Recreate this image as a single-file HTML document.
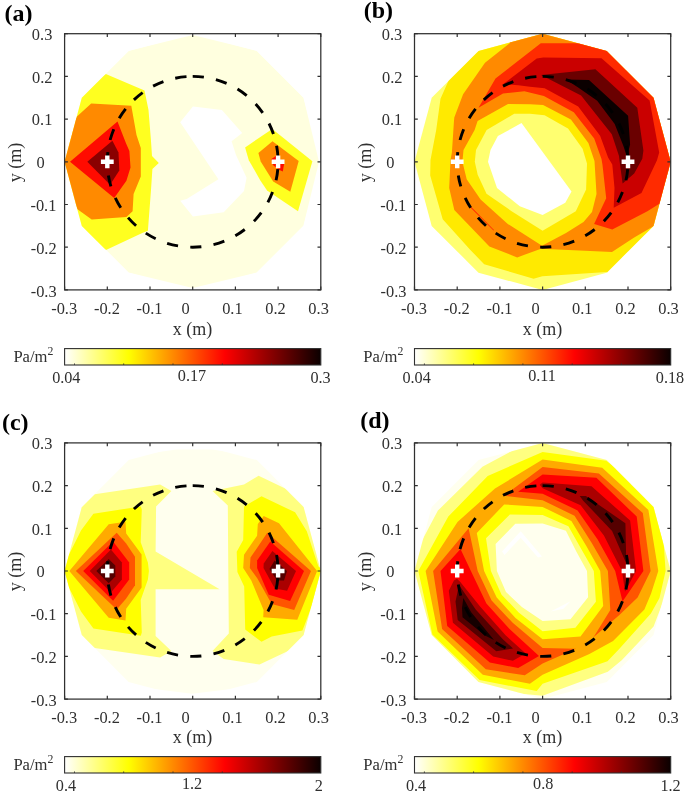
<!DOCTYPE html>
<html lang="en"><head><meta charset="utf-8"><title>Figure</title>
<style>html,body{margin:0;padding:0;background:#fff}body{width:685px;height:794px;overflow:hidden}svg{display:block}text{white-space:pre}</style></head><body>
<svg width="685" height="794" viewBox="0 0 685 794">
<defs><linearGradient id="hot" x1="0" x2="1" y1="0" y2="0"><stop offset="0" stop-color="#ffffff"/><stop offset="0.25" stop-color="#ffff00"/><stop offset="0.625" stop-color="#ff0000"/><stop offset="1" stop-color="#0b0000"/></linearGradient></defs>
<rect width="685" height="794" fill="#fff"/>
<g>
<clipPath id="clip0"><polygon points="320.8,161.8 303.6,97.8 256.8,50.9 192.7,33.7 128.7,50.9 81.8,97.8 64.6,161.8 81.8,225.9 128.6,272.7 192.7,289.9 256.8,272.7 303.6,225.9"/></clipPath>
<g clip-path="url(#clip0)" shape-rendering="geometricPrecision">
<polygon points="192.8,35.1 256.6,50.6 303.4,97.6 319.0,161.7 303.4,225.7 256.6,272.6 192.7,288.0 128.6,272.6 81.8,225.7 64.0,161.7 81.8,97.7 128.6,50.8" fill="#ffffdf" />
<polygon points="192.9,106.5 221.9,110.0 242.2,132.9 231.6,141.2 236.0,154.9 246.6,177.8 244.0,191.0 223.7,212.2 192.9,216.6 180.2,200.7 186.7,199.0 218.4,179.2 180.2,122.3" fill="#ffffff" />
<polygon points="105.8,74.0 144.5,90.5 148.5,110.0 151.0,141.0 152.0,156.0 158.8,163.0 152.4,169.0 151.0,190.0 147.9,230.7 142.8,232.8 106.0,250.1 75.0,230.0 55.0,161.7 75.0,95.0" fill="#ffff20" />
<polygon points="91.2,103.6 131.3,105.8 136.5,135.0 140.8,148.1 140.8,176.6 133.6,193.9 132.6,211.3 126.4,217.0 91.7,219.5 77.5,209.3 55.0,161.7 76.7,116.7" fill="#ff8a00" />
<polygon points="117.5,121.6 126.2,143.8 129.4,151.0 130.5,167.4 126.4,180.7 114.2,198.0 70.0,161.7" fill="#ff0b00" />
<polygon points="112.4,140.8 118.5,152.5 119.3,170.4 110.1,184.7 87.3,161.7" fill="#8a0000" />
<polygon points="272.3,128.9 312.4,161.3 298.0,211.3 267.1,190.5 260.5,180.7 248.8,160.3 245.1,147.4" fill="#ffff20" />
<polygon points="272.5,141.2 298.7,161.0 290.3,191.8 273.2,181.5 260.7,161.6 258.4,153.0" fill="#ff8a00" />
<polygon points="271.5,159.0 275.9,155.9 284.1,164.1 282.8,171.6 279.0,169.7 273.0,165.0" fill="#ff0b00" />
</g>
<circle cx="192.7" cy="161.8" r="85.4" fill="none" stroke="#000" stroke-width="2.9" stroke-dasharray="11.3 12.25" stroke-dashoffset="0" transform="rotate(-90 192.7 161.8)"/>
<path d="M100.9 161.8H113.7M107.3 155.4V168.2" stroke="#fff" stroke-width="4.4" fill="none"/>
<path d="M271.7 161.8H284.5M278.1 155.4V168.2" stroke="#fff" stroke-width="4.4" fill="none"/>
<rect x="64.6" y="33.7" width="256.2" height="256.2" fill="none" stroke="#303030" stroke-width="1.25"/>
<path d="M64.6 289.9v-3.3M64.6 33.7v3.3M64.6 33.7h3.3M320.8 33.7h-3.3M107.3 289.9v-3.3M107.3 33.7v3.3M64.6 76.4h3.3M320.8 76.4h-3.3M150.0 289.9v-3.3M150.0 33.7v3.3M64.6 119.1h3.3M320.8 119.1h-3.3M192.7 289.9v-3.3M192.7 33.7v3.3M64.6 161.8h3.3M320.8 161.8h-3.3M235.4 289.9v-3.3M235.4 33.7v3.3M64.6 204.5h3.3M320.8 204.5h-3.3M278.1 289.9v-3.3M278.1 33.7v3.3M64.6 247.2h3.3M320.8 247.2h-3.3M320.8 289.9v-3.3M320.8 33.7v3.3M64.6 289.9h3.3M320.8 289.9h-3.3" stroke="#303030" stroke-width="1.2" fill="none"/>
<text x="64.2" y="313.9" text-anchor="middle" font-size="16.4" font-family="'Liberation Serif','Times New Roman',serif" fill="#303030">-0.3</text>
<text x="106.9" y="313.9" text-anchor="middle" font-size="16.4" font-family="'Liberation Serif','Times New Roman',serif" fill="#303030">-0.2</text>
<text x="149.6" y="313.9" text-anchor="middle" font-size="16.4" font-family="'Liberation Serif','Times New Roman',serif" fill="#303030">-0.1</text>
<text x="185.7" y="313.9" text-anchor="middle" font-size="16.4" font-family="'Liberation Serif','Times New Roman',serif" fill="#303030">0</text>
<text x="232.4" y="313.9" text-anchor="middle" font-size="16.4" font-family="'Liberation Serif','Times New Roman',serif" fill="#303030">0.1</text>
<text x="275.5" y="313.9" text-anchor="middle" font-size="16.4" font-family="'Liberation Serif','Times New Roman',serif" fill="#303030">0.2</text>
<text x="318.6" y="313.9" text-anchor="middle" font-size="16.4" font-family="'Liberation Serif','Times New Roman',serif" fill="#303030">0.3</text>
<text x="42.1" y="39.6" text-anchor="middle" font-size="16.4" font-family="'Liberation Serif','Times New Roman',serif" fill="#303030">0.3</text>
<text x="42.3" y="82.5" text-anchor="middle" font-size="16.4" font-family="'Liberation Serif','Times New Roman',serif" fill="#303030">0.2</text>
<text x="42.1" y="125.3" text-anchor="middle" font-size="16.4" font-family="'Liberation Serif','Times New Roman',serif" fill="#303030">0.1</text>
<text x="40.5" y="168.2" text-anchor="middle" font-size="16.4" font-family="'Liberation Serif','Times New Roman',serif" fill="#303030">0</text>
<text x="43.4" y="211.1" text-anchor="middle" font-size="16.4" font-family="'Liberation Serif','Times New Roman',serif" fill="#303030">-0.1</text>
<text x="43.7" y="253.9" text-anchor="middle" font-size="16.4" font-family="'Liberation Serif','Times New Roman',serif" fill="#303030">-0.2</text>
<text x="43.7" y="296.8" text-anchor="middle" font-size="16.4" font-family="'Liberation Serif','Times New Roman',serif" fill="#303030">-0.3</text>
<text x="192.5" y="335.3" text-anchor="middle" font-size="18" font-family="'Liberation Serif','Times New Roman',serif" fill="#303030">x (m)</text>
<text transform="translate(21.0 162.4) rotate(-90)" text-anchor="middle" font-size="18" font-family="'Liberation Serif','Times New Roman',serif" fill="#303030">y (m)</text>
<text x="4.6" y="20.6" font-size="24" font-weight="bold" font-family="'Liberation Serif','Times New Roman',serif" fill="#000">(a)</text>
<rect x="64.6" y="348.6" width="256.2" height="16.4" fill="url(#hot)" stroke="#303030" stroke-width="1.1"/>
<path d="M74.5 365.0v-1.6M123.7 365.0v-1.6M173.0 365.0v-1.6M222.3 365.0v-1.6M271.5 365.0v-1.6" stroke="#303030" stroke-width="0.8" fill="none"/>
<text x="66.3" y="383.4" text-anchor="middle" font-size="16.2" font-family="'Liberation Serif','Times New Roman',serif" fill="#303030">0.04</text>
<text x="192.0" y="381.1" text-anchor="middle" font-size="16.2" font-family="'Liberation Serif','Times New Roman',serif" fill="#303030">0.17</text>
<text x="320.6" y="383.2" text-anchor="middle" font-size="16.2" font-family="'Liberation Serif','Times New Roman',serif" fill="#303030">0.3</text>
<text x="13.4" y="362.0" font-size="16.6" font-family="'Liberation Serif','Times New Roman',serif" fill="#303030">Pa/m<tspan dy="-7.4" font-size="11.8">2</tspan></text>
</g>
<g>
<clipPath id="clip1"><polygon points="670.7,161.8 653.5,97.8 606.7,50.9 542.6,33.7 478.6,50.9 431.7,97.8 414.5,161.8 431.7,225.9 478.5,272.7 542.6,289.9 606.7,272.7 653.5,225.9"/></clipPath>
<g clip-path="url(#clip1)" shape-rendering="geometricPrecision">
<polygon points="675.0,161.8 657.2,95.6 608.8,47.2 542.6,29.4 476.4,47.2 428.0,95.6 410.2,161.8 428.0,228.0 476.4,276.4 542.6,294.2 608.8,276.4 657.2,228.0" fill="#ffff70" />
<polygon points="448.4,81.1 430.0,60.0 430.0,0.0 700.0,0.0 700.0,320.0 620.0,320.0 606.8,271.9 542.3,276.3 533.6,278.7 484.2,264.2 470.4,250.0 442.7,219.3 430.2,175.5 430.5,160.0 436.2,129.9 440.5,98.7" fill="#ffea00" />
<polygon points="510.0,43.0 485.0,62.8 463.1,94.2 454.3,117.6 453.9,122.0 451.9,152.6 450.5,160.0 449.2,188.0 454.3,209.9 489.4,246.4 517.2,257.4 541.0,248.7 612.0,252.0 634.2,237.6 653.9,225.9 700.0,230.0 700.0,0.0 505.0,0.0" fill="#ff8a00" />
<polygon points="508.0,104.0 530.0,104.3 543.1,105.0 570.9,119.6 588.4,143.0 594.5,161.0 596.5,194.0 592.0,212.0 583.5,222.0 566.0,233.0 542.0,245.7 507.5,223.8 480.6,199.6 466.7,179.2 462.4,161.7 463.5,150.0 474.6,130.0 477.6,121.0" fill="#ffea00" />
<polygon points="514.2,113.8 530.0,113.8 544.6,115.3 568.0,128.4 582.6,148.8 587.0,163.4 586.1,189.4 575.8,211.3 542.6,230.8 512.0,211.5 486.5,193.8 477.7,174.8 474.8,161.7 476.0,150.0 486.6,130.1" fill="#ffff70" />
<polygon points="521.5,123.0 571.5,191.4 565.3,202.8 542.6,215.0 519.8,206.3 497.0,188.0 488.0,161.7 490.5,150.0 497.9,136.1" fill="#ffffff" />
<polygon points="478.5,107.7 495.5,78.6 540.8,43.3 579.0,43.3 590.0,20.0 700.0,20.0 700.0,200.0 659.0,204.0 647.4,211.3 612.3,229.6 594.1,224.0 606.2,198.2 602.5,165.0 601.5,159.1 594.2,138.6 573.8,112.3 543.9,96.0 524.4,91.3 503.0,93.4" fill="#ff2b00" />
<polygon points="503.0,84.2 536.7,58.6 543.3,57.6 601.5,58.2 649.6,100.5 659.2,152.6 657.0,160.2 641.5,193.1 613.7,207.7 614.5,188.0 612.3,164.6 608.1,157.6 600.1,135.7 578.2,106.5 544.6,88.2 530.0,86.8 518.3,85.2" fill="#ca0000" />
<polygon points="541.0,75.0 595.4,69.2 637.3,107.7 643.4,150.6 642.3,158.8 634.2,173.4 622.6,183.6 620.4,167.5 619.0,156.1 611.8,134.2 581.1,95.5" fill="#6a0000" />
<polygon points="565.8,79.5 589.0,80.1 628.1,115.8 630.1,144.5 627.0,157.0 623.4,145.9 614.7,124.0 597.2,100.7 578.2,87.5" fill="#0b0000" />
<polygon points="470.2,207.2 470.8,206.6 494.0,230.0 493.5,230.6" fill="#ff2b00" />
</g>
<circle cx="542.6" cy="161.8" r="85.4" fill="none" stroke="#000" stroke-width="2.9" stroke-dasharray="11.3 12.25" stroke-dashoffset="0" transform="rotate(-90 542.6 161.8)"/>
<path d="M450.8 161.8H463.6M457.2 155.4V168.2" stroke="#fff" stroke-width="4.4" fill="none"/>
<path d="M621.6 161.8H634.4M628.0 155.4V168.2" stroke="#fff" stroke-width="4.4" fill="none"/>
<rect x="414.5" y="33.7" width="256.2" height="256.2" fill="none" stroke="#303030" stroke-width="1.25"/>
<path d="M414.5 289.9v-3.3M414.5 33.7v3.3M414.5 33.7h3.3M670.7 33.7h-3.3M457.2 289.9v-3.3M457.2 33.7v3.3M414.5 76.4h3.3M670.7 76.4h-3.3M499.9 289.9v-3.3M499.9 33.7v3.3M414.5 119.1h3.3M670.7 119.1h-3.3M542.6 289.9v-3.3M542.6 33.7v3.3M414.5 161.8h3.3M670.7 161.8h-3.3M585.3 289.9v-3.3M585.3 33.7v3.3M414.5 204.5h3.3M670.7 204.5h-3.3M628.0 289.9v-3.3M628.0 33.7v3.3M414.5 247.2h3.3M670.7 247.2h-3.3M670.7 289.9v-3.3M670.7 33.7v3.3M414.5 289.9h3.3M670.7 289.9h-3.3" stroke="#303030" stroke-width="1.2" fill="none"/>
<text x="414.1" y="313.9" text-anchor="middle" font-size="16.4" font-family="'Liberation Serif','Times New Roman',serif" fill="#303030">-0.3</text>
<text x="456.8" y="313.9" text-anchor="middle" font-size="16.4" font-family="'Liberation Serif','Times New Roman',serif" fill="#303030">-0.2</text>
<text x="499.5" y="313.9" text-anchor="middle" font-size="16.4" font-family="'Liberation Serif','Times New Roman',serif" fill="#303030">-0.1</text>
<text x="535.6" y="313.9" text-anchor="middle" font-size="16.4" font-family="'Liberation Serif','Times New Roman',serif" fill="#303030">0</text>
<text x="582.3" y="313.9" text-anchor="middle" font-size="16.4" font-family="'Liberation Serif','Times New Roman',serif" fill="#303030">0.1</text>
<text x="625.4" y="313.9" text-anchor="middle" font-size="16.4" font-family="'Liberation Serif','Times New Roman',serif" fill="#303030">0.2</text>
<text x="668.5" y="313.9" text-anchor="middle" font-size="16.4" font-family="'Liberation Serif','Times New Roman',serif" fill="#303030">0.3</text>
<text x="392.0" y="39.6" text-anchor="middle" font-size="16.4" font-family="'Liberation Serif','Times New Roman',serif" fill="#303030">0.3</text>
<text x="392.2" y="82.5" text-anchor="middle" font-size="16.4" font-family="'Liberation Serif','Times New Roman',serif" fill="#303030">0.2</text>
<text x="392.0" y="125.3" text-anchor="middle" font-size="16.4" font-family="'Liberation Serif','Times New Roman',serif" fill="#303030">0.1</text>
<text x="390.4" y="168.2" text-anchor="middle" font-size="16.4" font-family="'Liberation Serif','Times New Roman',serif" fill="#303030">0</text>
<text x="393.3" y="211.1" text-anchor="middle" font-size="16.4" font-family="'Liberation Serif','Times New Roman',serif" fill="#303030">-0.1</text>
<text x="393.6" y="253.9" text-anchor="middle" font-size="16.4" font-family="'Liberation Serif','Times New Roman',serif" fill="#303030">-0.2</text>
<text x="393.6" y="296.8" text-anchor="middle" font-size="16.4" font-family="'Liberation Serif','Times New Roman',serif" fill="#303030">-0.3</text>
<text x="542.4" y="335.3" text-anchor="middle" font-size="18" font-family="'Liberation Serif','Times New Roman',serif" fill="#303030">x (m)</text>
<text transform="translate(370.9 162.4) rotate(-90)" text-anchor="middle" font-size="18" font-family="'Liberation Serif','Times New Roman',serif" fill="#303030">y (m)</text>
<text x="363.7" y="18.1" font-size="24" font-weight="bold" font-family="'Liberation Serif','Times New Roman',serif" fill="#000">(b)</text>
<rect x="414.5" y="348.6" width="256.2" height="16.4" fill="url(#hot)" stroke="#303030" stroke-width="1.1"/>
<path d="M424.4 365.0v-1.6M473.6 365.0v-1.6M522.9 365.0v-1.6M572.2 365.0v-1.6M621.4 365.0v-1.6" stroke="#303030" stroke-width="0.8" fill="none"/>
<text x="416.6" y="383.4" text-anchor="middle" font-size="16.2" font-family="'Liberation Serif','Times New Roman',serif" fill="#303030">0.04</text>
<text x="542.0" y="381.1" text-anchor="middle" font-size="16.2" font-family="'Liberation Serif','Times New Roman',serif" fill="#303030">0.11</text>
<text x="670.0" y="383.2" text-anchor="middle" font-size="16.2" font-family="'Liberation Serif','Times New Roman',serif" fill="#303030">0.18</text>
<text x="363.3" y="362.0" font-size="16.6" font-family="'Liberation Serif','Times New Roman',serif" fill="#303030">Pa/m<tspan dy="-7.4" font-size="11.8">2</tspan></text>
</g>
<g>
<clipPath id="clip2"><polygon points="320.8,571.0 303.6,507.0 256.8,460.1 192.7,442.9 128.7,460.1 81.8,507.0 64.6,571.0 81.8,635.0 128.6,681.9 192.7,699.1 256.8,681.9 303.6,635.1"/></clipPath>
<g clip-path="url(#clip2)" shape-rendering="geometricPrecision">
<polygon points="325.1,571.0 307.3,504.8 258.9,456.4 212.0,449.5 176.5,449.5 126.5,456.4 78.1,504.8 60.3,571.0 78.1,637.2 126.5,685.6 192.0,693.8 258.9,685.6 307.3,637.2" fill="#ffffee" />
<polygon points="81.8,507.1 94.7,494.2 160.1,484.6 171.4,491.1 156.1,506.4 155.6,551.4 219.6,589.3 155.6,589.3 155.6,636.0 171.4,651.0 160.1,657.5 94.7,647.9 75.0,640.0 50.0,571.0 75.0,500.0" fill="#ffff80" />
<polygon points="212.5,491.1 244.0,484.6 258.6,475.8 286.3,489.0 310.0,500.0 335.0,571.0 310.0,640.0 286.0,652.0 259.5,664.6 223.7,659.1 212.5,651.0 228.8,633.6 228.3,571.0 227.8,505.4" fill="#ffff80" />
<polygon points="93.4,513.7 140.8,506.4 141.8,509.5 140.7,542.2 147.9,562.6 148.9,571.0 147.9,579.5 140.7,599.9 141.8,632.6 140.8,635.7 93.4,628.4 81.0,611.6 70.8,591.2 60.0,571.0 70.8,550.9 81.0,530.5" fill="#ffff00" />
<polygon points="108.7,524.3 125.5,521.7 126.2,533.4 141.6,554.6 141.6,587.5 126.2,608.7 125.5,620.4 108.7,617.8 69.3,571.0" fill="#ffaa00" />
<polygon points="116.7,532.7 126.2,543.6 135.0,556.8 135.0,585.3 126.2,598.5 116.7,609.4 75.9,571.0" fill="#ff5500" />
<polygon points="113.1,541.4 129.2,562.6 129.2,579.5 113.1,600.7 83.2,571.0" fill="#ff0000" />
<polygon points="110.9,549.5 121.9,562.6 121.9,579.5 110.9,592.6 89.7,571.0" fill="#aa0000" />
<polygon points="108.7,558.9 115.3,565.5 115.3,576.6 108.7,583.2 96.3,571.0" fill="#550000" />
<polygon points="261.5,496.3 295.1,512.3 306.8,531.3 318.4,566.4 325.0,571.0 304.4,625.4 302.4,630.5 271.7,636.6 261.5,641.8 245.2,629.5 244.2,586.6 237.4,572.0 236.7,551.8 243.2,540.1 244.0,506.5" fill="#ffff00" />
<polygon points="263.7,516.0 279.0,523.3 317.1,571.0 297.3,619.7 263.2,617.2 263.6,610.1 251.3,580.4 243.2,568.0 244.0,554.7 257.1,535.7 257.8,524.0" fill="#ffaa00" />
<polygon points="267.3,532.8 311.0,571.0 294.2,610.1 271.7,603.9 257.4,578.4 249.8,568.0 250.5,557.6" fill="#ff5500" />
<polygon points="270.3,541.5 304.0,571.0 290.1,600.9 268.7,594.7 257.1,568.0 257.1,560.5" fill="#ff0000" />
<polygon points="272.4,551.0 296.0,571.0 287.1,590.7 274.8,588.6 263.5,568.0 263.7,563.4" fill="#aa0000" />
<polygon points="274.6,560.5 287.0,571.0 284.0,580.4 276.9,580.4 269.5,569.0" fill="#550000" />
</g>
<circle cx="192.7" cy="571.0" r="85.4" fill="none" stroke="#000" stroke-width="2.9" stroke-dasharray="11.3 12.25" stroke-dashoffset="0" transform="rotate(-90 192.7 571.0)"/>
<path d="M100.9 571.0H113.7M107.3 564.6V577.4" stroke="#fff" stroke-width="4.4" fill="none"/>
<path d="M271.7 571.0H284.5M278.1 564.6V577.4" stroke="#fff" stroke-width="4.4" fill="none"/>
<rect x="64.6" y="442.9" width="256.2" height="256.2" fill="none" stroke="#303030" stroke-width="1.25"/>
<path d="M64.6 699.1v-3.3M64.6 442.9v3.3M64.6 442.9h3.3M320.8 442.9h-3.3M107.3 699.1v-3.3M107.3 442.9v3.3M64.6 485.6h3.3M320.8 485.6h-3.3M150.0 699.1v-3.3M150.0 442.9v3.3M64.6 528.3h3.3M320.8 528.3h-3.3M192.7 699.1v-3.3M192.7 442.9v3.3M64.6 571.0h3.3M320.8 571.0h-3.3M235.4 699.1v-3.3M235.4 442.9v3.3M64.6 613.7h3.3M320.8 613.7h-3.3M278.1 699.1v-3.3M278.1 442.9v3.3M64.6 656.4h3.3M320.8 656.4h-3.3M320.8 699.1v-3.3M320.8 442.9v3.3M64.6 699.1h3.3M320.8 699.1h-3.3" stroke="#303030" stroke-width="1.2" fill="none"/>
<text x="64.2" y="723.1" text-anchor="middle" font-size="16.4" font-family="'Liberation Serif','Times New Roman',serif" fill="#303030">-0.3</text>
<text x="106.9" y="723.1" text-anchor="middle" font-size="16.4" font-family="'Liberation Serif','Times New Roman',serif" fill="#303030">-0.2</text>
<text x="149.6" y="723.1" text-anchor="middle" font-size="16.4" font-family="'Liberation Serif','Times New Roman',serif" fill="#303030">-0.1</text>
<text x="185.7" y="723.1" text-anchor="middle" font-size="16.4" font-family="'Liberation Serif','Times New Roman',serif" fill="#303030">0</text>
<text x="232.4" y="723.1" text-anchor="middle" font-size="16.4" font-family="'Liberation Serif','Times New Roman',serif" fill="#303030">0.1</text>
<text x="275.5" y="723.1" text-anchor="middle" font-size="16.4" font-family="'Liberation Serif','Times New Roman',serif" fill="#303030">0.2</text>
<text x="318.6" y="723.1" text-anchor="middle" font-size="16.4" font-family="'Liberation Serif','Times New Roman',serif" fill="#303030">0.3</text>
<text x="42.1" y="448.8" text-anchor="middle" font-size="16.4" font-family="'Liberation Serif','Times New Roman',serif" fill="#303030">0.3</text>
<text x="42.3" y="491.7" text-anchor="middle" font-size="16.4" font-family="'Liberation Serif','Times New Roman',serif" fill="#303030">0.2</text>
<text x="42.1" y="534.5" text-anchor="middle" font-size="16.4" font-family="'Liberation Serif','Times New Roman',serif" fill="#303030">0.1</text>
<text x="40.5" y="577.4" text-anchor="middle" font-size="16.4" font-family="'Liberation Serif','Times New Roman',serif" fill="#303030">0</text>
<text x="43.4" y="620.3" text-anchor="middle" font-size="16.4" font-family="'Liberation Serif','Times New Roman',serif" fill="#303030">-0.1</text>
<text x="43.7" y="663.1" text-anchor="middle" font-size="16.4" font-family="'Liberation Serif','Times New Roman',serif" fill="#303030">-0.2</text>
<text x="43.7" y="706.0" text-anchor="middle" font-size="16.4" font-family="'Liberation Serif','Times New Roman',serif" fill="#303030">-0.3</text>
<text x="192.5" y="743.3" text-anchor="middle" font-size="18" font-family="'Liberation Serif','Times New Roman',serif" fill="#303030">x (m)</text>
<text transform="translate(21.0 571.6) rotate(-90)" text-anchor="middle" font-size="18" font-family="'Liberation Serif','Times New Roman',serif" fill="#303030">y (m)</text>
<text x="1.9" y="430.0" font-size="24" font-weight="bold" font-family="'Liberation Serif','Times New Roman',serif" fill="#000">(c)</text>
<rect x="64.6" y="756.6" width="256.2" height="16.4" fill="url(#hot)" stroke="#303030" stroke-width="1.1"/>
<path d="M74.5 773.0v-1.6M123.7 773.0v-1.6M173.0 773.0v-1.6M222.3 773.0v-1.6M271.5 773.0v-1.6" stroke="#303030" stroke-width="0.8" fill="none"/>
<text x="65.9" y="791.4" text-anchor="middle" font-size="16.2" font-family="'Liberation Serif','Times New Roman',serif" fill="#303030">0.4</text>
<text x="192.0" y="788.6" text-anchor="middle" font-size="16.2" font-family="'Liberation Serif','Times New Roman',serif" fill="#303030">1.2</text>
<text x="318.7" y="791.2" text-anchor="middle" font-size="16.2" font-family="'Liberation Serif','Times New Roman',serif" fill="#303030">2</text>
<text x="13.4" y="770.0" font-size="16.6" font-family="'Liberation Serif','Times New Roman',serif" fill="#303030">Pa/m<tspan dy="-7.4" font-size="11.8">2</tspan></text>
</g>
<g>
<clipPath id="clip3"><polygon points="670.7,571.0 653.5,507.0 606.7,460.1 542.6,442.9 478.6,460.1 431.7,507.0 414.5,571.0 431.7,635.0 478.5,681.9 542.6,699.1 606.7,681.9 653.5,635.1"/></clipPath>
<g clip-path="url(#clip3)" shape-rendering="geometricPrecision">
<polygon points="679.2,571.0 660.9,502.7 610.9,452.7 542.6,434.4 474.3,452.7 424.3,502.7 406.0,571.0 424.3,639.3 474.3,689.3 542.6,707.6 610.9,689.3 660.9,639.3" fill="#ffffee" />
<path d="M679.2 571.0 660.9 502.7 610.9 452.7 542.6 434.4 482.4 466.7 437.9 510.6 406.0 571.0 424.3 639.3 474.3 689.3 542.6 695.7 607.8 671.8 622.0 660.0 632.6 648.8 653.6 626.5 664.5 598.0ZM587.0 571.0 576.3 551.6 565.9 530.7 542.6 523.6 515.3 523.7 495.6 543.9 496.9 571.0 506.0 592.1 521.9 606.9 542.6 621.0 570.5 619.3 588.1 597.3Z" fill="#ffff80" fill-rule="evenodd"/>
<path d="M665.6 571.0 660.9 502.7 606.2 460.8 542.6 451.9 487.7 476.0 448.3 516.6 418.3 571.0 432.4 634.6 479.6 680.1 536.7 691.0 542.6 683.7 607.5 661.2 619.4 648.8 650.9 613.4 659.5 598.0ZM593.8 571.0 581.1 548.8 568.4 526.3 542.6 515.1 509.9 514.4 486.0 538.3 490.9 571.0 501.6 594.7 518.7 612.4 542.6 631.2 575.4 627.8 595.9 601.7Z" fill="#ffff00" fill-rule="evenodd"/>
<path d="M658.3 571.0 648.4 509.9 602.2 467.8 542.6 459.6 495.0 488.5 457.5 521.9 425.6 571.0 437.6 631.6 482.8 674.7 529.9 683.8 542.6 674.8 589.4 654.0 613.1 640.9 644.4 609.4 651.0 593.7ZM600.2 571.0 586.2 545.8 571.4 521.1 542.6 506.9 504.2 504.4 476.8 533.0 484.1 571.0 496.7 597.5 515.5 618.0 542.6 639.3 580.5 636.6 603.2 606.0Z" fill="#ffaa00" fill-rule="evenodd"/>
<polygon points="504.0,495.7 542.6,467.0 598.9,473.6 642.8,513.1 650.6,571.0 637.6,597.4 619.1,615.2 593.5,637.3 610.3,610.1 607.9,571.0 591.6,542.7 574.5,515.7 542.6,500.3" fill="#ff5500" />
<polygon points="468.6,528.3 433.1,571.0 442.1,629.0 485.8,669.3 524.8,675.3 542.6,663.4 576.0,648.8 542.6,648.0 512.7,622.8 491.6,600.5 477.7,571.0" fill="#ff5500" />
<polygon points="518.1,491.8 542.6,474.6 596.4,477.8 636.7,516.6 643.4,571.0 622.5,601.5 615.2,571.0 597.5,539.3 577.6,510.4 542.6,493.7" fill="#ff0000" />
<polygon points="460.5,549.0 440.5,571.0 447.2,626.1 489.8,662.4 518.2,668.1 539.0,655.9 509.3,628.7 486.4,603.5 470.9,571.0" fill="#ff0000" />
<polygon points="539.7,484.8 542.6,482.6 591.5,486.3 630.1,520.5 636.1,571.0 625.0,591.7 622.0,571.0 603.9,535.6 580.6,505.2 542.6,488.2" fill="#aa0000" />
<polygon points="457.0,578.8 453.9,580.4 448.8,590.7 452.9,622.8 493.2,656.6 512.9,660.8 525.7,653.5 505.6,635.2 480.5,606.9 460.3,582.0" fill="#aa0000" />
<polygon points="579.7,495.9 585.9,495.9 625.4,523.2 626.3,563.5 612.1,530.9 583.2,500.7" fill="#550000" />
<polygon points="459.0,585.0 455.5,601.4 457.7,620.0 496.3,651.2 513.0,648.4 503.1,639.4 475.7,609.6 462.5,590.0" fill="#550000" />
<polygon points="463.3,598.0 462.0,608.0 462.5,617.2 484.9,635.4 494.0,640.0 471.2,612.2" fill="#150000" />
<polygon points="502.0,551.5 520.7,531.3 542.0,556.5 538.0,557.5 520.7,537.8 504.5,555.0" fill="#ffffff" />
<polygon points="550.7,611.6 570.5,601.3 563.5,608.8" fill="#ffffff" />
</g>
<circle cx="542.6" cy="571.0" r="85.4" fill="none" stroke="#000" stroke-width="2.9" stroke-dasharray="11.3 12.25" stroke-dashoffset="0" transform="rotate(-90 542.6 571.0)"/>
<path d="M450.8 571.0H463.6M457.2 564.6V577.4" stroke="#fff" stroke-width="4.4" fill="none"/>
<path d="M621.6 571.0H634.4M628.0 564.6V577.4" stroke="#fff" stroke-width="4.4" fill="none"/>
<rect x="414.5" y="442.9" width="256.2" height="256.2" fill="none" stroke="#303030" stroke-width="1.25"/>
<path d="M414.5 699.1v-3.3M414.5 442.9v3.3M414.5 442.9h3.3M670.7 442.9h-3.3M457.2 699.1v-3.3M457.2 442.9v3.3M414.5 485.6h3.3M670.7 485.6h-3.3M499.9 699.1v-3.3M499.9 442.9v3.3M414.5 528.3h3.3M670.7 528.3h-3.3M542.6 699.1v-3.3M542.6 442.9v3.3M414.5 571.0h3.3M670.7 571.0h-3.3M585.3 699.1v-3.3M585.3 442.9v3.3M414.5 613.7h3.3M670.7 613.7h-3.3M628.0 699.1v-3.3M628.0 442.9v3.3M414.5 656.4h3.3M670.7 656.4h-3.3M670.7 699.1v-3.3M670.7 442.9v3.3M414.5 699.1h3.3M670.7 699.1h-3.3" stroke="#303030" stroke-width="1.2" fill="none"/>
<text x="414.1" y="723.1" text-anchor="middle" font-size="16.4" font-family="'Liberation Serif','Times New Roman',serif" fill="#303030">-0.3</text>
<text x="456.8" y="723.1" text-anchor="middle" font-size="16.4" font-family="'Liberation Serif','Times New Roman',serif" fill="#303030">-0.2</text>
<text x="499.5" y="723.1" text-anchor="middle" font-size="16.4" font-family="'Liberation Serif','Times New Roman',serif" fill="#303030">-0.1</text>
<text x="535.6" y="723.1" text-anchor="middle" font-size="16.4" font-family="'Liberation Serif','Times New Roman',serif" fill="#303030">0</text>
<text x="582.3" y="723.1" text-anchor="middle" font-size="16.4" font-family="'Liberation Serif','Times New Roman',serif" fill="#303030">0.1</text>
<text x="625.4" y="723.1" text-anchor="middle" font-size="16.4" font-family="'Liberation Serif','Times New Roman',serif" fill="#303030">0.2</text>
<text x="668.5" y="723.1" text-anchor="middle" font-size="16.4" font-family="'Liberation Serif','Times New Roman',serif" fill="#303030">0.3</text>
<text x="392.0" y="448.8" text-anchor="middle" font-size="16.4" font-family="'Liberation Serif','Times New Roman',serif" fill="#303030">0.3</text>
<text x="392.2" y="491.7" text-anchor="middle" font-size="16.4" font-family="'Liberation Serif','Times New Roman',serif" fill="#303030">0.2</text>
<text x="392.0" y="534.5" text-anchor="middle" font-size="16.4" font-family="'Liberation Serif','Times New Roman',serif" fill="#303030">0.1</text>
<text x="390.4" y="577.4" text-anchor="middle" font-size="16.4" font-family="'Liberation Serif','Times New Roman',serif" fill="#303030">0</text>
<text x="393.3" y="620.3" text-anchor="middle" font-size="16.4" font-family="'Liberation Serif','Times New Roman',serif" fill="#303030">-0.1</text>
<text x="393.6" y="663.1" text-anchor="middle" font-size="16.4" font-family="'Liberation Serif','Times New Roman',serif" fill="#303030">-0.2</text>
<text x="393.6" y="706.0" text-anchor="middle" font-size="16.4" font-family="'Liberation Serif','Times New Roman',serif" fill="#303030">-0.3</text>
<text x="542.4" y="743.3" text-anchor="middle" font-size="18" font-family="'Liberation Serif','Times New Roman',serif" fill="#303030">x (m)</text>
<text transform="translate(370.9 571.6) rotate(-90)" text-anchor="middle" font-size="18" font-family="'Liberation Serif','Times New Roman',serif" fill="#303030">y (m)</text>
<text x="360.2" y="427.5" font-size="24" font-weight="bold" font-family="'Liberation Serif','Times New Roman',serif" fill="#000">(d)</text>
<rect x="414.5" y="756.6" width="256.2" height="16.4" fill="url(#hot)" stroke="#303030" stroke-width="1.1"/>
<path d="M424.4 773.0v-1.6M473.6 773.0v-1.6M522.9 773.0v-1.6M572.2 773.0v-1.6M621.4 773.0v-1.6" stroke="#303030" stroke-width="0.8" fill="none"/>
<text x="416.1" y="791.4" text-anchor="middle" font-size="16.2" font-family="'Liberation Serif','Times New Roman',serif" fill="#303030">0.4</text>
<text x="543.2" y="788.6" text-anchor="middle" font-size="16.2" font-family="'Liberation Serif','Times New Roman',serif" fill="#303030">0.8</text>
<text x="670.5" y="791.2" text-anchor="middle" font-size="16.2" font-family="'Liberation Serif','Times New Roman',serif" fill="#303030">1.2</text>
<text x="363.3" y="770.0" font-size="16.6" font-family="'Liberation Serif','Times New Roman',serif" fill="#303030">Pa/m<tspan dy="-7.4" font-size="11.8">2</tspan></text>
</g>
</svg></body></html>
